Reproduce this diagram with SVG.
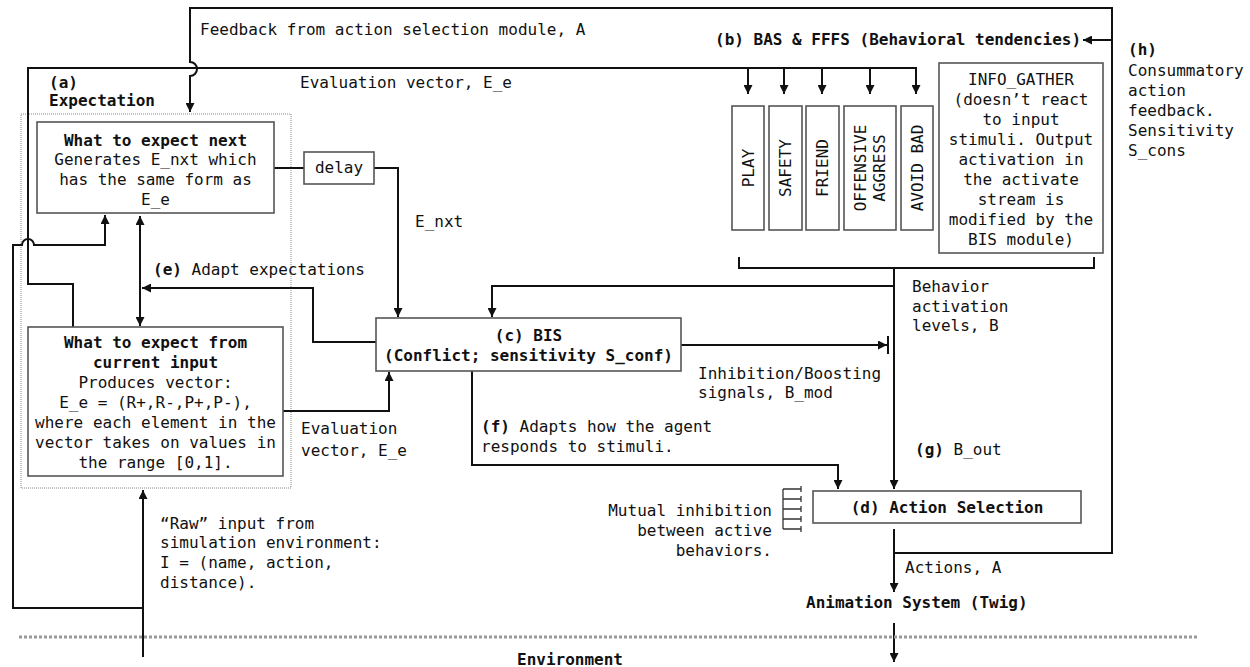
<svg xmlns="http://www.w3.org/2000/svg" width="1250" height="667" viewBox="0 0 1250 667">
  <defs>
    <marker id="arrow" viewBox="0 0 10 10" refX="10" refY="5" markerWidth="9" markerHeight="9" markerUnits="userSpaceOnUse" orient="auto-start-reverse">
      <path d="M0,0 L10,5 L0,10 z" fill="#111"/>
    </marker>
    <style>
      text { font-family: "DejaVu Sans Mono", "Liberation Mono", monospace; font-size: 16px; fill: #111; }
      .b { font-weight: bold; }
      .c { text-anchor: middle; }
      .r { text-anchor: end; }
      .box { fill: #fff; stroke: #555; stroke-width: 1.6; }
      .wire { fill: none; stroke: #111; stroke-width: 2; }
      .arr { marker-end: url(#arrow); }
      .group { fill: none; stroke: #888; stroke-width: 1; stroke-dasharray: 1 1; }
      .sep { fill: none; stroke: #999; stroke-width: 3; stroke-dasharray: 3 2; }
    </style>
  </defs>
  <rect width="1250" height="667" fill="#fff"/>

  <!-- expectation module outline -->
  <g id="expectation">
    <rect class="group" x="21" y="114" width="270" height="374"/>
    <text class="b" x="49" y="88">(a)</text>
    <text class="b" x="49" y="106">Expectation</text>
  </g>

  <!-- connectors -->
  <g id="connectors">
    <!-- feedback from action selection, hopping over the evaluation line -->
    <path class="wire arr" d="M894,553 H1112 V8 H190 V62 A7,7 0 0 1 190,76 V112"/>
    <path class="wire arr" d="M1112,40 H1083"/>
    <!-- evaluation vector to the behaviour tendencies -->
    <path class="wire arr" d="M73,327 V284 H28 V68 H916 V94"/>
    <path class="wire arr" d="M748,68 V94"/>
    <path class="wire arr" d="M784,68 V94"/>
    <path class="wire arr" d="M822,68 V94"/>
    <path class="wire arr" d="M870,68 V94"/>
    <!-- raw input loop into "what to expect next" -->
    <path class="wire arr" d="M143,608 H13 V245 H22 A6,6 0 0 1 34,245 H105 V215"/>
    <path class="wire arr" d="M143,657 V490"/>
    <!-- two-way link between the expectation boxes -->
    <path class="wire arr" style="marker-start:url(#arrow)" d="M140,216 V326"/>
    <!-- (e) adapt expectations -->
    <path class="wire arr" d="M376,342 H313 V288 H142"/>
    <!-- delay / E_nxt -->
    <path class="wire" d="M274,168 H304"/>
    <path class="wire arr" d="M374,168 H398 V317"/>
    <!-- evaluation vector into BIS -->
    <path class="wire arr" d="M283,411 H389 V372"/>
    <!-- bracket collecting behaviour outputs -->
    <path class="wire" d="M739,257 V268 H1094 V257"/>
    <path class="wire arr" d="M894,268 V489"/>
    <path class="wire arr" d="M894,286 H492 V317"/>
    <!-- inhibition / boosting -->
    <path class="wire arr" d="M681,345 H887"/>
    <path class="wire" d="M888,336 V354"/>
    <!-- (f) adapts responses -->
    <path class="wire arr" d="M472,371 V465 H838 V489"/>
    <!-- actions out -->
    <path class="wire arr" d="M894,529 V592"/>
    <path class="wire arr" d="M894,623 V662"/>
    <!-- mutual inhibition -->
    <path fill="none" stroke="#333" stroke-width="1.3" d="M783,489 V529 M783,489 H801 M783,499 H801 M783,509 H801 M783,519 H801 M783,529 H801 M801,486 V492 M801,496 V502 M801,506 V512 M801,516 V522 M801,526 V532"/>
    <!-- environment boundary -->
    <path class="sep" d="M19,637 H1197"/>
  </g>

  <!-- free labels -->
  <g id="labels">
    <text x="200" y="35">Feedback from action selection module, A</text>
    <text x="300" y="88">Evaluation vector, E_e</text>
    <text x="415" y="227">E_nxt</text>
    <text x="153" y="275"><tspan class="b">(e)</tspan> Adapt expectations</text>
    <text x="301" y="434">Evaluation</text>
    <text x="301" y="456">vector, E_e</text>
    <text x="698" y="379">Inhibition/Boosting</text>
    <text x="698" y="398">signals, B_mod</text>
    <text x="912" y="292">Behavior</text>
    <text x="912" y="312">activation</text>
    <text x="912" y="331">levels, B</text>
    <text x="481" y="432"><tspan class="b">(f)</tspan> Adapts how the agent</text>
    <text x="481" y="452">responds to stimuli.</text>
    <text x="915" y="455"><tspan class="b">(g)</tspan> B_out</text>
    <text class="r" x="772" y="516">Mutual inhibition</text>
    <text class="r" x="772" y="536">between active</text>
    <text class="r" x="772" y="556">behaviors.</text>
    <text x="905" y="573">Actions, A</text>
    <text x="160" y="529">“Raw” input from</text>
    <text x="160" y="548">simulation environment:</text>
    <text x="160" y="568">I = (name, action,</text>
    <text x="160" y="588">distance).</text>
    <text class="b" x="517" y="665">Environment</text>
    <text class="b" x="1128" y="55">(h)</text>
    <text x="1128" y="76">Consummatory</text>
    <text x="1128" y="96">action</text>
    <text x="1128" y="116">feedback.</text>
    <text x="1128" y="136">Sensitivity</text>
    <text x="1128" y="156">S_cons</text>
  </g>

  <g id="expect-next">
    <rect class="box" x="37" y="122" width="237" height="91"/>
    <text class="b c" x="155.5" y="146">What to expect next</text>
    <text class="c" x="155.5" y="165">Generates E_nxt which</text>
    <text class="c" x="155.5" y="185">has the same form as</text>
    <text class="c" x="155.5" y="205">E_e</text>
  </g>

  <g id="expect-current">
    <rect class="box" x="28" y="327" width="255" height="149"/>
    <text class="b c" x="155.5" y="348">What to expect from</text>
    <text class="b c" x="155.5" y="368">current input</text>
    <text class="c" x="155.5" y="388">Produces vector:</text>
    <text class="c" x="155.5" y="408">E_e = (R+,R-,P+,P-),</text>
    <text class="c" x="155.5" y="428">where each element in the</text>
    <text class="c" x="155.5" y="448">vector takes on values in</text>
    <text class="c" x="155.5" y="468">the range [0,1].</text>
  </g>

  <g id="delay">
    <rect class="box" x="304" y="152" width="70" height="32"/>
    <text class="c" x="339" y="173">delay</text>
  </g>

  <g id="bis">
    <rect class="box" x="376" y="318" width="305" height="53"/>
    <text class="b c" x="528.5" y="341">(c) BIS</text>
    <text class="b c" x="528.5" y="361">(Conflict; sensitivity S_conf)</text>
  </g>

  <g id="bas-fffs">
    <text class="b" x="715" y="45">(b) BAS &amp; FFFS (Behavioral tendencies)</text>
  </g>

  <g id="play">
    <rect class="box" x="732" y="106" width="32" height="124"/>
    <text class="c" transform="translate(754,168) rotate(-90)">PLAY</text>
  </g>
  <g id="safety">
    <rect class="box" x="769" y="106" width="33" height="124"/>
    <text class="c" transform="translate(791,168) rotate(-90)">SAFETY</text>
  </g>
  <g id="friend">
    <rect class="box" x="806" y="106" width="33" height="124"/>
    <text class="c" transform="translate(828,168) rotate(-90)">FRIEND</text>
  </g>
  <g id="offensive">
    <rect class="box" x="844" y="106" width="52" height="124"/>
    <text class="c" transform="translate(866,168) rotate(-90)">OFFENSIVE</text>
    <text class="c" transform="translate(885,168) rotate(-90)">AGGRESS</text>
  </g>
  <g id="avoid-bad">
    <rect class="box" x="901" y="106" width="32" height="124"/>
    <text class="c" transform="translate(923,168) rotate(-90)">AVOID BAD</text>
  </g>

  <g id="info-gather">
    <rect class="box" x="939" y="63" width="164" height="190"/>
    <text class="c" x="1021" y="85">INFO_GATHER</text>
    <text class="c" x="1021" y="105">(doesn’t react</text>
    <text class="c" x="1021" y="125">to input</text>
    <text class="c" x="1021" y="145">stimuli. Output</text>
    <text class="c" x="1021" y="165">activation in</text>
    <text class="c" x="1021" y="185">the activate</text>
    <text class="c" x="1021" y="205">stream is</text>
    <text class="c" x="1021" y="225">modified by the</text>
    <text class="c" x="1021" y="245">BIS module)</text>
  </g>

  <g id="action-selection">
    <rect class="box" x="813" y="491" width="268" height="32"/>
    <text class="b c" x="947" y="513">(d) Action Selection</text>
  </g>

  <g id="animation">
    <text class="b" x="806" y="608">Animation System (Twig)</text>
  </g>
</svg>
